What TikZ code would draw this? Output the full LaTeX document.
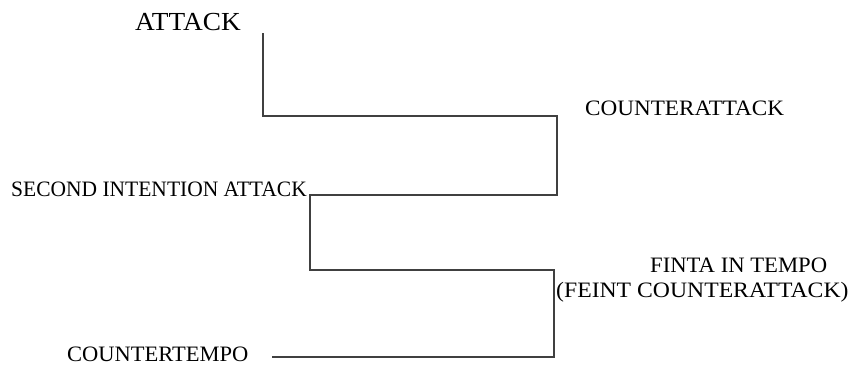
\documentclass[tikz,border=0pt]{standalone}
\usepackage{fontspec}
\usepackage{graphicx}
\setmainfont{Liberation Serif}
\begin{document}
\begin{tikzpicture}[x=1pt,y=-1pt,
  lbl/.style={inner sep=0pt,anchor=base west,font=\fontsize{22}{26}\selectfont},
  biglbl/.style={inner sep=0pt,anchor=base west,font=\fontsize{26}{30}\selectfont},
  conn/.style={line width=1.3pt,draw=black!75,line join=miter}]
\useasboundingbox (0,0) rectangle (850,367);
\node[biglbl] (attack) at (135,30) {\scalebox{1.05}[1]{ATTACK}};
\node[lbl] (counter) at (585,115) {\scalebox{1.053}[1]{COUNTERATTACK}};
\node[lbl] (second) at (11,196) {\scalebox{0.977}[1]{SECOND INTENTION ATTACK}};
\node[lbl] (finta) at (650,272) {\scalebox{1.03}[1]{FINTA IN TEMPO}};
\node[lbl] (feint) at (556,297) {\scalebox{1.077}[1]{(FEINT COUNTERATTACK)}};
\node[lbl] (ctempo) at (67,361.5) {\scalebox{1.023}[1]{COUNTERTEMPO}};
\coordinate (p0) at (263,33);
\coordinate (p1) at (263,116);
\coordinate (p2) at (557,116);
\coordinate (p3) at (557,195);
\coordinate (p4) at (310,195);
\coordinate (p5) at (310,270);
\coordinate (p6) at (554,270);
\coordinate (p7) at (554,357);
\coordinate (p8) at (272,357);
\draw[conn] (p0) -- (p1) -- (p2) -- (p3) -- (p4) -- (p5) -- (p6) -- (p7) -- (p8);
\end{tikzpicture}
\end{document}
